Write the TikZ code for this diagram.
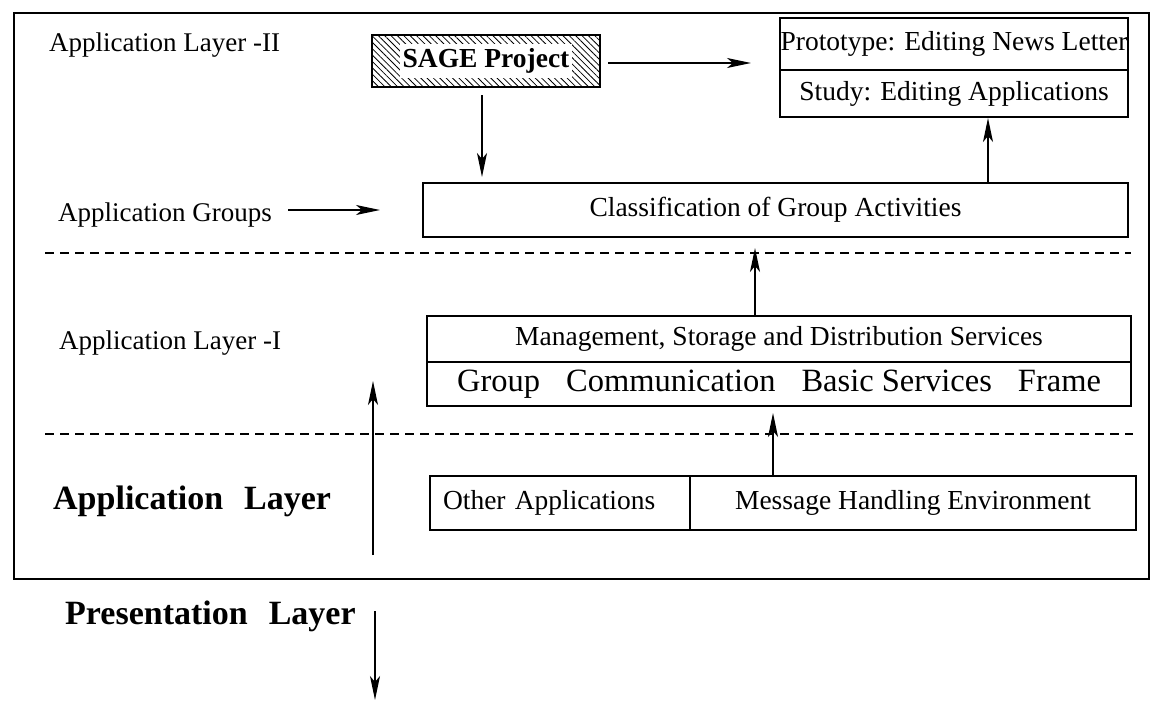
\documentclass[tikz,border=0pt]{standalone}
\usepackage{fontspec}
\setmainfont{Liberation Serif}
\usetikzlibrary{arrows.meta,patterns.meta,calc}

\tikzset{
  cell/.style={draw, line width=2pt, inner sep=0pt, align=center,
               font=\fontsize{27.5pt}{30pt}\selectfont},
  lbl/.style={inner sep=0pt, anchor=base west, font=\fontsize{27pt}{30pt}\selectfont},
  biglbl/.style={inner sep=0pt, anchor=base west, font=\bfseries\fontsize{34pt}{38pt}\selectfont},
  arr/.style={line width=1.5pt, -{Stealth[length=24pt,width=10pt,inset=6pt]}},
  layerline/.style={line width=1.8pt, dash pattern=on 9pt off 6pt},
  frame/.style={line width=2.5pt}
}

\begin{document}
\begin{tikzpicture}[x=1pt,y=-1pt]
\useasboundingbox (0,0) rectangle (1156,701);

% outer frame of the application layer
\draw[frame] (14,13) rectangle (1149,579);

% separators between the sub-layers
\draw[layerline] (45,253) -- (1131,253);
\draw[layerline] (45,434) -- (1133,434);

% layer labels
\node[lbl] (al2) at (49,52) {Application Layer -II};
\node[lbl] (grp) at (58,221) {Application Groups};
\node[lbl] (al1) at (59,349) {Application Layer -I};
\node[biglbl] (appl) at (53,509) {Application\hspace{21pt}Layer};
\node[biglbl] (pres) at (65,624) {Presentation\hspace{21pt}Layer};

% SAGE project box (hatched)
\node[draw, line width=2.2pt, minimum width=228pt, minimum height=52pt, inner sep=0pt,
      pattern={Lines[angle=-45,distance=4.5pt,line width=0.8pt]}] (sage) at (486,61) {};
\node[fill=white, inner xsep=3pt, inner ysep=5pt,
      font=\bfseries\fontsize{27.5pt}{30pt}\selectfont] (sagetxt) at (sage.center) {SAGE Project};

% prototype / study
\node[cell, minimum width=348pt, minimum height=52pt] (proto) at (954,44) {Prototype: Editing News Letter};
\node[cell, minimum width=348pt, minimum height=47pt] (study) at (954,93.5) {Study: Editing Applications};

% application groups
\node[cell, minimum width=705pt, minimum height=54pt] (class) at (775.5,210) {Classification of Group Activities};

% application layer I
\node[cell, minimum width=704pt, minimum height=46pt] (mgmt) at (779,339) {Management, Storage and Distribution Services};
\node[cell, minimum width=704pt, minimum height=44pt, font=\fontsize{32.5pt}{34pt}\selectfont] (gcb) at (779,384)
  {Group\hspace{26pt}Communication\hspace{26pt}Basic Services\hspace{26pt}Frame};

% applications
\node[cell, minimum width=260pt, minimum height=54pt, text width=234pt, align=left, inner xsep=13pt] (oa) at (560,503) {Other Applications};
\node[cell, minimum width=446pt, minimum height=54pt] (mhe) at (913,503) {Message Handling Environment};

% connectors
\draw[arr, shorten <=8pt, shorten >=28pt] ($(sage.east)+(0,2)$) -- ($(sage.east -| proto.west)+(0,2)$);
\draw[arr, shorten <=8pt, shorten >=5pt] ($(sage.south)+(-4,0)$) -- ($(sage.south |- class.north)+(-4,0)$);
\draw[arr] ($(class.north)+(212.5,0)$) -- ($(study.south)+(34,0)$);
\draw[arr, shorten >=10pt] ($(mgmt.north)+(-24,0)$) -- ($(class.south)+(-20.5,0)$);
\draw[arr, shorten >=6pt] ($(mhe.north)+(-140,0)$) -- ($(gcb.south)+(-6,0)$);

\coordinate (grptip) at (380,210);
\draw[arr, shorten <=16pt] (grp.east |- grptip) -- (grptip);

\coordinate (upfoot) at (373,555);
\coordinate (uphead) at (373,381);
\draw[arr] (upfoot) -- (uphead);

\coordinate (downtop) at (375,611);
\coordinate (downhead) at (375,700);
\draw[arr] (downtop) -- (downhead);
\end{tikzpicture}
\end{document}
